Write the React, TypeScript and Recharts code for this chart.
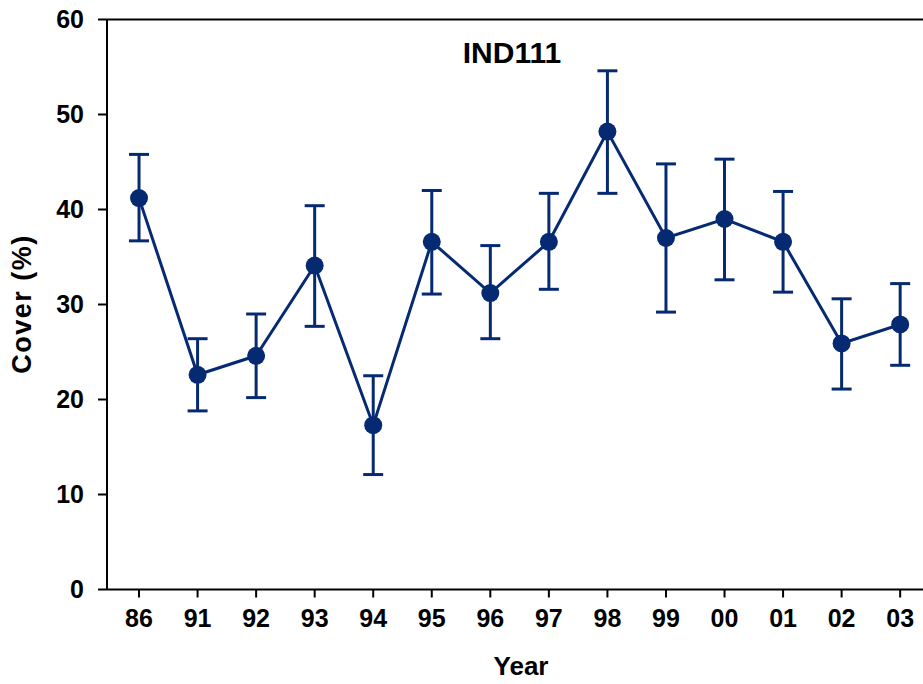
import { LineChart, Line, XAxis, YAxis, ErrorBar, ReferenceLine } from 'recharts'

// ── Data ───────────────────────────────────────────────────────────────────────

const YEARS = ['86', '91', '92', '93', '94', '95', '96', '97', '98', '99', '00', '01', '02', '03']
const COVER = [41.2, 22.6, 24.6, 34.1, 17.3, 36.6, 31.2, 36.6, 48.2, 37.0, 39.0, 36.6, 25.9, 27.9]
const LOWER = [36.7, 18.8, 20.2, 27.7, 12.1, 31.1, 26.4, 31.6, 41.7, 29.2, 32.6, 31.3, 21.1, 23.6]
const UPPER = [45.8, 26.4, 29.0, 40.4, 22.5, 42.0, 36.2, 41.7, 54.6, 44.8, 45.3, 41.9, 30.6, 32.2]
const Y_TICKS = [0, 10, 20, 30, 40, 50, 60]

const NAVY = '#062a72'
const FONT = '"Liberation Sans", Arial, sans-serif'

const rows = YEARS.map((y, i) => ({
  idx: i,
  year: y,
  cover: COVER[i],
  err: [COVER[i] - LOWER[i], UPPER[i] - COVER[i]],
}))

const tickStyle = { fill: '#000', fontSize: 25, fontWeight: 700, fontFamily: FONT }

export default function App() {
  return (
    <div style={{ position: 'absolute', left: 0, top: 0, width: 923, height: 684, overflow: 'hidden', background: '#fff' }}>
      <LineChart
        width={923}
        height={684}
        data={rows}
        margin={{ top: 19.5, right: 0, bottom: 34.5, left: 0 }}
      >
        <XAxis
          dataKey="idx"
          type="number"
          domain={[-0.547, 13.39]}
          ticks={YEARS.map((_, i) => i)}
          tickFormatter={(v: number) => YEARS[v]}
          allowDataOverflow
          height={60}
          tick={tickStyle}
          tickSize={8}
          tickMargin={12}
          axisLine={{ stroke: '#000', strokeWidth: 2 }}
          tickLine={{ stroke: '#000', strokeWidth: 2 }}
        />
        <YAxis
          domain={[0, 60]}
          ticks={Y_TICKS}
          width={107}
          tick={tickStyle}
          tickSize={9}
          tickMargin={14}
          axisLine={{ stroke: '#000', strokeWidth: 2 }}
          tickLine={{ stroke: '#000', strokeWidth: 2 }}
        />
        <ReferenceLine y={60} stroke="#000" strokeWidth={2} />
        <Line
          dataKey="cover"
          stroke={NAVY}
          strokeWidth={3}
          dot={{ r: 9, fill: NAVY, stroke: NAVY, strokeWidth: 0 }}
          activeDot={false}
          isAnimationActive={false}
        >
          <ErrorBar dataKey="err" direction="y" width={10} strokeWidth={3} stroke={NAVY} isAnimationActive={false} />
        </Line>
      </LineChart>

      {/* titles */}
      <svg width={923} height={684} style={{ position: 'absolute', left: 0, top: 0, pointerEvents: 'none' }}>
        <text x={512} y={63} textAnchor="middle" fontFamily={FONT} fontWeight={700} fontSize={30}>
          IND111
        </text>
        <text x={521} y={675} textAnchor="middle" fontFamily={FONT} fontWeight={700} fontSize={26}>
          Year
        </text>
        <text
          x={31}
          y={304}
          textAnchor="middle"
          fontFamily={FONT}
          fontWeight={700}
          fontSize={27}
          letterSpacing={1.5}
          transform="rotate(-90, 31, 304)"
        >
          Cover (%)
        </text>
      </svg>
    </div>
  )
}
